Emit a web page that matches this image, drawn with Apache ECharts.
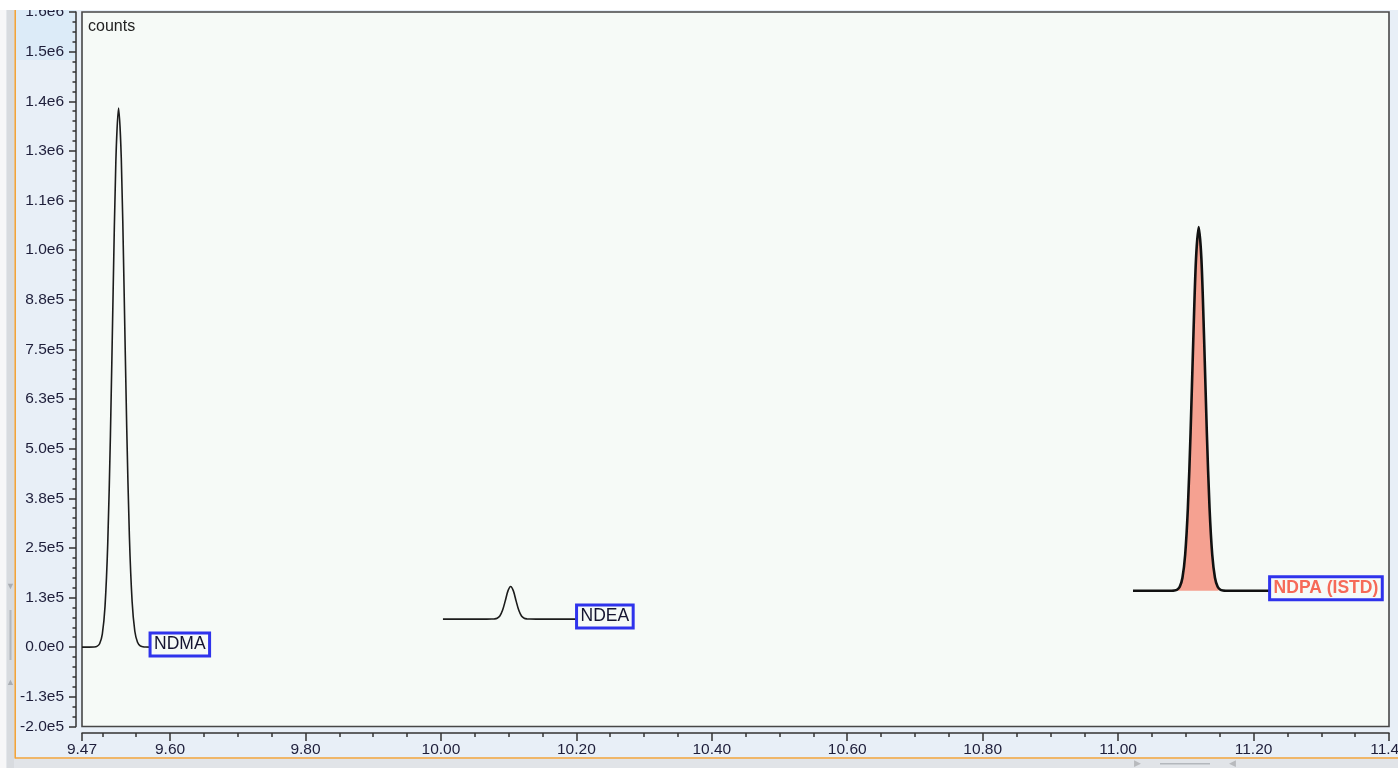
<!DOCTYPE html>
<html>
<head>
<meta charset="utf-8">
<script src="https://cdn.jsdelivr.net/npm/echarts@6.0.0/dist/echarts.min.js"></script>
<style>
  html, body { margin: 0; padding: 0; background: #ffffff; }
  #chart { width: 1398px; height: 768px; }
</style>
</head>
<body>
<div id="chart"></div>
<script>
// Acquisition time window (min) and counts range
const timeRange = [9.47, 11.4];
const countsRange = [-200000, 1600000];

// Axis ticks and their labels
const xTickValues = [9.47, 9.6, 9.8, 10.0, 10.2, 10.4, 10.6, 10.8, 11.0, 11.2, 11.4];
const xTickLabels = ['9.47', '9.60', '9.80', '10.00', '10.20', '10.40', '10.60', '10.80', '11.00', '11.20', '11.40'];
const yTickValues = [-200000, -125000, 0, 125000, 250000, 375000, 500000, 625000, 750000,
                     875000, 1000000, 1125000, 1250000, 1375000, 1500000, 1600000];
const yTickLabels = ['-2.0e5', '-1.3e5', '0.0e0', '1.3e5', '2.5e5', '3.8e5', '5.0e5', '6.3e5', '7.5e5',
                     '8.8e5', '1.0e6', '1.1e6', '1.3e6', '1.4e6', '1.5e6', '1.6e6'];

// NDMA trace
const ndmaTimes = [9.470, 9.480, 9.488, 9.492, 9.496, 9.500, 9.504, 9.508, 9.512, 9.516, 9.520,
                   9.524, 9.528, 9.532, 9.536, 9.540, 9.544, 9.548, 9.552, 9.556, 9.560, 9.564, 9.5705];
const ndmaCounts = [0, 0, 300, 1800, 8600, 32900, 102700, 260100, 535900, 898300, 1224800,
                    1358000, 1232000, 915000, 556000, 278000, 115000, 40000, 12000, 3000, 700, 100, 0];

// NDEA trace
const ndeaTimes = [10.003, 10.060, 10.075, 10.079, 10.083, 10.087, 10.091, 10.095, 10.099,
                   10.103, 10.107, 10.111, 10.115, 10.119, 10.123, 10.127, 10.131, 10.150, 10.2003];
const ndeaCounts = [70600, 70600, 70700, 71000, 72700, 78500, 92700, 116400, 141600,
                    152800, 141600, 116400, 92700, 78500, 72700, 71000, 70700, 70600, 70600];

// NDPA (ISTD) trace
const ndpaTimes = [11.022, 11.060, 11.079, 11.083, 11.087, 11.091, 11.095, 11.099, 11.103, 11.107,
                   11.111, 11.115, 11.119, 11.123, 11.127, 11.131, 11.135, 11.139, 11.143,
                   11.147, 11.151, 11.155, 11.159, 11.190, 11.2237];
const ndpaCounts = [142000, 142000, 142100, 142500, 144500, 151900, 174800, 232700, 350500, 540600,
                    774900, 977400, 1058300, 977400, 774900, 540600, 350500, 232700, 174800,
                    151900, 144500, 142500, 142100, 142000, 142000];

// Integrated region of the internal standard peak
const ndpaIntegration = { start: 11.087, end: 11.151, baseline: 142000 };

const zip = (xs, ys) => xs.map((x, i) => [x, ys[i]]);
const ndmaData = zip(ndmaTimes, ndmaCounts);
const ndeaData = zip(ndeaTimes, ndeaCounts);
const ndpaData = zip(ndpaTimes, ndpaCounts);
const ndpaAreaData = ndpaData.filter(p => p[0] >= ndpaIntegration.start - 1e-9 && p[0] <= ndpaIntegration.end + 1e-9);

// Minor tick positions
const xMinor = [];
for (let k = Math.ceil(timeRange[0] / 0.05); k * 0.05 <= timeRange[1] + 1e-9; k++) xMinor.push(+(k * 0.05).toFixed(2));
const yMinor = [];
for (let v = countsRange[0]; v <= countsRange[1]; v += 25000) yMinor.push(v);

const FONT = "'Liberation Sans', Arial, sans-serif";
const TRACE = '#1c1c1c';
const BOX = '#2f33ec';

function tagLabel(color, bold) {
  return {
    show: true,
    formatter: '{a}',
    distance: 0,
    offset: [0, -2.5],
    color: color,
    fontFamily: FONT,
    fontSize: 17.5,
    fontWeight: bold ? 'bold' : 'normal',
    lineHeight: 18,
    borderColor: BOX,
    borderWidth: 1.5,
    padding: [3, 4, 2, 4],
    backgroundColor: 'transparent'
  };
}

const chart = echarts.init(document.getElementById('chart'), null, { renderer: 'canvas' });

chart.setOption({
  animation: false,
  backgroundColor: '#e8eff7',
  grid: {
    left: 82, right: 9, top: 12, bottom: 41.5,
    outerBoundsMode: 'none',
    containLabel: false,
    show: true,
    backgroundColor: '#f6faf7',
    borderColor: '#474747',
    borderWidth: 1.6
  },
  xAxis: [
    {
      type: 'value', min: timeRange[0], max: timeRange[1],
      position: 'bottom', offset: 6.5,
      splitLine: { show: false },
      axisLine: { show: true, onZero: false, lineStyle: { color: '#333333', width: 1.5 } },
      axisTick: { show: true, customValues: xTickValues, length: 8, lineStyle: { color: '#333333', width: 1.5 } },
      axisLabel: {
        show: true, customValues: xTickValues, margin: 9,
        formatter: v => xTickLabels[xTickValues.findIndex(t => Math.abs(t - v) < 1e-6)] || '',
        color: '#1e1e3a', fontFamily: FONT, fontSize: 15.5, showMinLabel: true, showMaxLabel: true
      }
    },
    {
      type: 'value', min: timeRange[0], max: timeRange[1],
      position: 'bottom', offset: 6.5,
      splitLine: { show: false },
      axisLine: { show: false, onZero: false },
      axisTick: { show: true, customValues: xMinor, length: 4, lineStyle: { color: '#333333', width: 1.5 } },
      axisLabel: { show: false }
    }
  ],
  yAxis: [
    {
      type: 'value', min: countsRange[0], max: countsRange[1],
      position: 'left', offset: 6,
      splitLine: { show: false },
      axisLine: { show: true, onZero: false, lineStyle: { color: '#333333', width: 1.5 } },
      axisTick: { show: true, customValues: yTickValues, length: 7, lineStyle: { color: '#333333', width: 1.5 } },
      axisLabel: {
        show: true, customValues: yTickValues, margin: 12,
        formatter: v => yTickLabels[yTickValues.indexOf(v)] || '',
        color: '#1e1e3a', fontFamily: FONT, fontSize: 15.5, showMinLabel: true, showMaxLabel: true
      }
    },
    {
      type: 'value', min: countsRange[0], max: countsRange[1],
      position: 'left', offset: 6,
      splitLine: { show: false },
      axisLine: { show: false, onZero: false },
      axisTick: { show: true, customValues: yMinor, length: 3.5, lineStyle: { color: '#333333', width: 1.5 } },
      axisLabel: { show: false }
    }
  ],
  series: [
    {
      name: 'NDPA area', type: 'line', data: ndpaAreaData,
      xAxisIndex: 0, yAxisIndex: 0,
      symbol: 'none', smooth: 0.3, z: 2,
      lineStyle: { width: 0, opacity: 0 },
      areaStyle: { color: '#f5a191', opacity: 1, origin: ndpaIntegration.baseline }
    },
    {
      name: 'NDMA', type: 'line', data: ndmaData,
      xAxisIndex: 0, yAxisIndex: 0,
      symbol: 'none', smooth: 0.3, z: 3,
      lineStyle: { color: TRACE, width: 1.6 },
      endLabel: tagLabel('#141430', false)
    },
    {
      name: 'NDEA', type: 'line', data: ndeaData,
      xAxisIndex: 0, yAxisIndex: 0,
      symbol: 'none', smooth: 0.3, z: 3,
      lineStyle: { color: TRACE, width: 1.6 },
      endLabel: tagLabel('#141430', false)
    },
    {
      name: 'NDPA (ISTD)', type: 'line', data: ndpaData,
      xAxisIndex: 0, yAxisIndex: 0,
      symbol: 'none', smooth: 0.3, z: 3,
      lineStyle: { color: '#111111', width: 2.6 },
      endLabel: tagLabel('#f66a58', true)
    }
  ],
  graphic: [
    // highlighted band behind the top of the count scale
    { type: 'rect', z: -10, shape: { x: 16, y: 10, width: 60, height: 50 }, style: { fill: '#dcebf8' } },
    // y-axis title inside the plot
    { type: 'text', z: 50, left: 88, top: 19, style: { text: 'counts', fill: '#222222', font: '16px ' + FONT } },
    // window chrome: top edge, side scroller, bottom scroller
    { type: 'rect', z: 100, shape: { x: 0, y: 0, width: 1398, height: 10 }, style: { fill: '#ffffff' } },
    { type: 'rect', z: 100, shape: { x: 0, y: 10, width: 6.5, height: 758 }, style: { fill: '#f7f7f8' } },
    { type: 'rect', z: 100, shape: { x: 6.5, y: 10, width: 8, height: 758 }, style: { fill: '#d8dbdf' } },
    { type: 'rect', z: 100, shape: { x: 14.5, y: 759, width: 1384, height: 9 }, style: { fill: '#e1e4e8' } },
    { type: 'line', z: 101, shape: { x1: 15.2, y1: 10, x2: 15.2, y2: 758.5 }, style: { stroke: '#f2a33a', lineWidth: 1.6 } },
    { type: 'line', z: 101, shape: { x1: 15.2, y1: 758, x2: 1398, y2: 758 }, style: { stroke: '#f2a33a', lineWidth: 1.6 } },
    { type: 'text', z: 102, x: 10.5, y: 587, style: { text: '▼', fill: '#a9adb2', font: '9px ' + FONT, align: 'center', verticalAlign: 'middle' } },
    { type: 'text', z: 102, x: 10.5, y: 683, style: { text: '▲', fill: '#a9adb2', font: '9px ' + FONT, align: 'center', verticalAlign: 'middle' } },
    { type: 'rect', z: 102, shape: { x: 9.5, y: 610, width: 2, height: 50 }, style: { fill: '#b3b7bc' } },
    { type: 'text', z: 102, x: 1137.5, y: 764, style: { text: '▶', fill: '#b8babd', font: '9px ' + FONT, align: 'center', verticalAlign: 'middle' } },
    { type: 'text', z: 102, x: 1232.5, y: 764, style: { text: '◀', fill: '#b8babd', font: '9px ' + FONT, align: 'center', verticalAlign: 'middle' } },
    { type: 'rect', z: 102, shape: { x: 1160, y: 763, width: 50, height: 1.5 }, style: { fill: '#b3b7bc' } }
  ]
});
</script>
</body>
</html>
